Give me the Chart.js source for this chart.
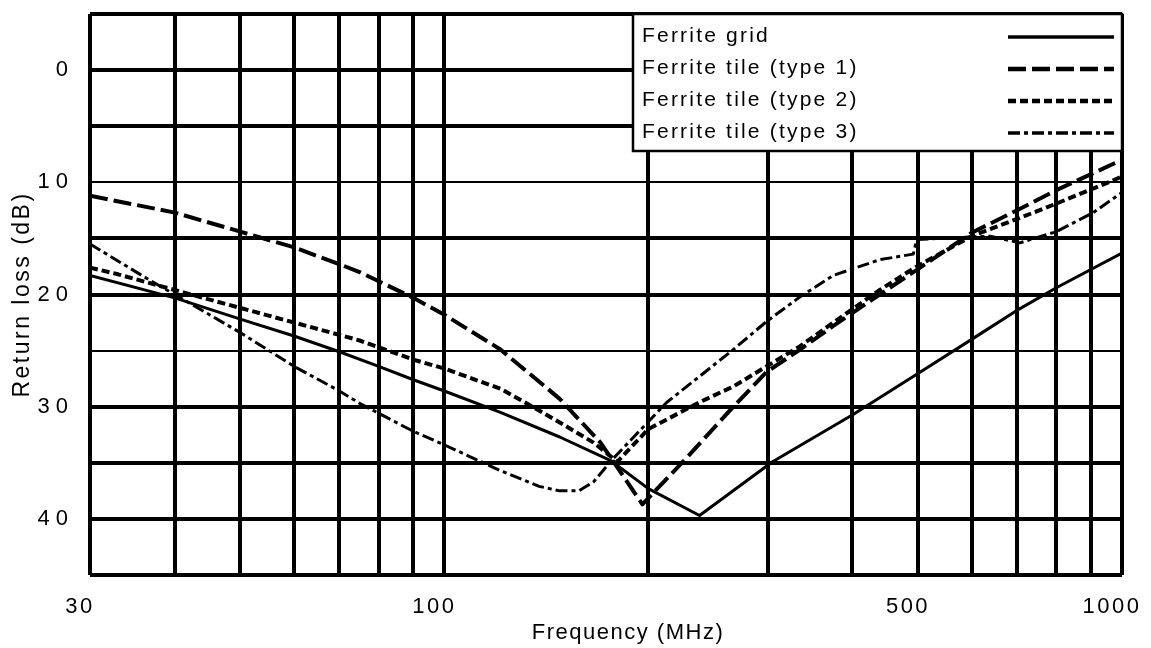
<!DOCTYPE html>
<html>
<head>
<meta charset="utf-8">
<script src="https://cdn.jsdelivr.net/npm/chart.js@4.4.1/dist/chart.umd.min.js"></script>
<style>
html, body { margin: 0; padding: 0; background: #fff; }
#wrap { width: 1151px; height: 648px; }
</style>
</head>
<body>
<div id="wrap"><canvas id="c" width="1151" height="648"></canvas></div>
<script>
// ---- axes ----
const xGridValues = [30, 40, 50, 60, 70, 80, 90, 100, 200, 300, 400, 500, 600, 700, 800, 900, 1000];
const xTickLabels = [30, 100, 500, 1000];
const yGridValues = [-5, 0, 5, 10, 15, 20, 25, 30, 35, 40, 45];
const yTickLabels = [0, 10, 20, 30, 40];
const xTitle = 'Frequency (MHz)';
const yTitle = 'Return loss (dB)';

// ---- series ----
const seriesNames = ['Ferrite grid', 'Ferrite tile (type 1)', 'Ferrite tile (type 2)', 'Ferrite tile (type 3)'];

const gridFreq = [30, 40, 50, 60, 70, 80, 90, 100, 121, 148, 176, 200, 238, 305, 401, 504, 600, 705, 800, 1000];
const gridLoss = [18.3, 20.3, 22.2, 23.7, 25.1, 26.4, 27.6, 28.6, 30.5, 32.7, 34.8, 37.3, 39.7, 34.9, 30.7, 26.9, 24.0, 21.3, 19.4, 16.3];

const tile1Freq = [30, 40, 50, 60, 70, 75, 90, 100, 121, 148, 170, 196, 225, 267, 299, 335, 375, 439, 498, 600, 705, 800, 1000];
const tile1Loss = [11.2, 12.7, 14.4, 15.8, 17.3, 18.0, 20.3, 21.8, 24.9, 29.3, 33.2, 38.7, 34.9, 30.0, 26.9, 24.9, 22.8, 20.0, 17.8, 14.5, 12.4, 10.7, 8.0];

const tile2Freq = [30, 33, 40, 50, 60, 70, 75, 90, 100, 121, 135, 148, 166, 180, 200, 238, 267, 299, 335, 375, 439, 498, 600, 705, 800, 1000];
const tile2Loss = [17.6, 18.2, 19.6, 21.2, 22.5, 23.6, 24.1, 25.8, 26.6, 28.4, 30.0, 31.4, 33.2, 34.9, 32.0, 29.6, 28.2, 26.4, 24.6, 22.5, 19.6, 17.5, 14.8, 13.2, 11.9, 9.5];

const tile3Freq = [30, 36, 40, 50, 60, 70, 75, 90, 100, 121, 138, 148, 158, 166, 177, 213, 238, 267, 299, 335, 375, 439, 492, 498, 639, 707, 800, 907, 1000];
const tile3Loss = [15.5, 18.4, 20.0, 23.4, 26.4, 28.6, 29.7, 32.2, 33.4, 35.7, 37.1, 37.5, 37.5, 36.7, 34.7, 29.6, 27.3, 24.9, 22.4, 20.2, 18.3, 16.9, 16.4, 15.1, 14.8, 15.4, 14.4, 12.7, 10.9];

const FONT = "'Liberation Sans', Arial, Helvetica, sans-serif";
Chart.defaults.font.family = FONT;
Chart.defaults.color = '#000';

function pts(xs, ys) { return xs.map((x, i) => ({ x: x, y: ys[i] })); }

function line(label, xs, ys, width, dash) {
  return {
    label: label,
    data: pts(xs, ys),
    borderColor: '#000',
    backgroundColor: '#000',
    borderWidth: width,
    borderDash: dash,
    borderCapStyle: 'butt',
    borderJoinStyle: 'round',
    pointRadius: 0,
    pointHoverRadius: 0,
    fill: false,
    tension: 0
  };
}

const datasets = [
  line(seriesNames[0], gridFreq, gridLoss, 3, []),
  line(seriesNames[1], tile1Freq, tile1Loss, 4, [18, 6]),
  line(seriesNames[2], tile2Freq, tile2Loss, 4, [8, 4]),
  line(seriesNames[3], tile3Freq, tile3Loss, 3, [12, 4, 4, 4])
];

function zeroPad(s) { s.paddingTop = 0; s.paddingBottom = 0; s.paddingLeft = 0; s.paddingRight = 0; }

const textPlugin = {
  id: 'textAndLegend',
  beforeDraw(chart) { chart.ctx.letterSpacing = '2.5px'; },
  afterDatasetsDraw(chart) { chart.ctx.letterSpacing = '6px'; },
  afterDraw(chart) {
    const ctx = chart.ctx;
    const ca = chart.chartArea;
    ctx.save();
    // x-axis title
    ctx.font = '22px ' + FONT;
    ctx.letterSpacing = '1.5px';
    ctx.fillStyle = '#000';
    ctx.textAlign = 'center';
    ctx.textBaseline = 'middle';
    ctx.fillText(xTitle, (ca.left + ca.right) / 2 + 22, chart.height - 15);
    // legend
    const bw = 489, bh = 137;
    const bx = ca.right - bw, by = ca.top;
    ctx.fillStyle = '#fff';
    ctx.fillRect(bx, by, bw, bh);
    ctx.lineWidth = 2.5;
    ctx.strokeStyle = '#000';
    ctx.setLineDash([]);
    ctx.strokeRect(bx, by, bw, bh);
    ctx.font = '21px ' + FONT;
    ctx.letterSpacing = '2.2px';
    ctx.textAlign = 'left';
    ctx.textBaseline = 'alphabetic';
    ctx.fillStyle = '#000';
    chart.data.datasets.forEach((ds, i) => {
      const base = by + 28 + i * 32;
      ctx.fillText(ds.label, bx + 9, base);
      ctx.setLineDash(ds.borderDash || []);
      ctx.lineWidth = ds.borderWidth + 0.5;
      ctx.lineCap = 'butt';
      ctx.beginPath();
      ctx.moveTo(ca.right - 114, base - 5);
      ctx.lineTo(ca.right - 8, base - 5);
      ctx.stroke();
    });
    ctx.restore();
    ctx.letterSpacing = '0px';
  }
};

new Chart(document.getElementById('c'), {
  type: 'line',
  data: { datasets: datasets },
  plugins: [textPlugin],
  options: {
    responsive: false,
    animation: false,
    devicePixelRatio: 1,
    layout: { padding: { left: 0, right: 29, top: 14, bottom: 0 } },
    plugins: { legend: { display: false }, tooltip: { enabled: false } },
    scales: {
      x: {
        type: 'logarithmic',
        min: 30,
        max: 1000,
        afterBuildTicks: (s) => { s.ticks = xGridValues.map(v => ({ value: v })); },
        afterFit: (s) => { s.height = 73; zeroPad(s); },
        ticks: {
          autoSkip: false,
          maxRotation: 0,
          minRotation: 0,
          padding: 19,
          labelOffset: -10,
          font: { size: 22 },
          color: '#000',
          callback: (v) => xTickLabels.includes(v) ? String(v) : ''
        },
        grid: { color: '#000', lineWidth: 4, drawTicks: false },
        border: { display: false },
        title: { display: false, text: xTitle }
      },
      y: {
        type: 'linear',
        min: -5,
        max: 45,
        reverse: true,
        afterBuildTicks: (s) => { s.ticks = yGridValues.map(v => ({ value: v })); },
        afterFit: (s) => { s.width = 90; zeroPad(s); },
        ticks: {
          autoSkip: false,
          padding: 16,
          z: 1,
          font: { size: 22 },
          color: '#000',
          callback: (v) => yTickLabels.includes(v) ? String(v) : ''
        },
        grid: {
          color: '#000',
          lineWidth: (c) => (c.tick && (c.tick.value === 10 || c.tick.value === 25)) ? 2 : 4,
          drawTicks: false
        },
        border: { display: false },
        title: { display: true, text: yTitle, font: { size: 23 }, color: '#000', padding: { top: 9, bottom: 0 } }
      }
    }
  }
});
</script>
</body>
</html>
